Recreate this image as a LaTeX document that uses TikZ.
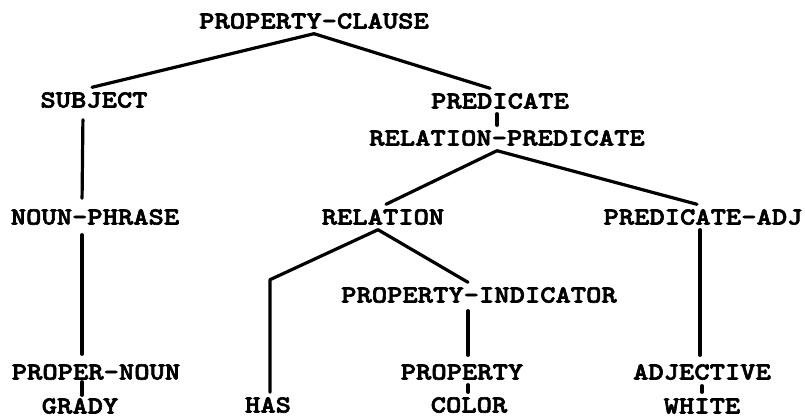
\documentclass[tikz,border=0pt]{standalone}
\usepackage{fontspec}
% heavy typewriter face, widened to a Courier-like proportion
\newfontfamily\twfont{lmmonolt10-bold.otf}[FakeStretch=1.19,FakeBold=2.6]
\begin{document}
\begin{tikzpicture}[x=1pt,y=-1pt,
  lbl/.style={font=\twfont\fontsize{24.5}{24.5}\selectfont,
    inner xsep=0pt, inner ysep=5pt, text height=15pt, text depth=0pt},
  branch/.style={line width=3.2pt, line cap=round, line join=round}]
\useasboundingbox (0,0) rectangle (805,418);

% parse tree labels
\node[lbl] (pc)    at (314,21)  {PROPERTY-CLAUSE};
\node[lbl] (subj)  at (94,100)  {SUBJECT};
\node[lbl] (pred)  at (500,101) {PREDICATE};
\node[lbl] (rp)    at (507,138) {RELATION-PREDICATE};
\node[lbl] (np)    at (95,217)  {NOUN-PHRASE};
\node[lbl] (rel)   at (383,217) {RELATION};
\node[lbl] (padj)  at (703,217) {PREDICATE-ADJ};
\node[lbl] (pi)    at (479,295) {PROPERTY-INDICATOR};
\node[lbl] (pn)    at (96,372)  {PROPER-NOUN};
\node[lbl] (prop)  at (462,372) {PROPERTY};
\node[lbl] (adj)   at (702,372) {ADJECTIVE};
\node[lbl] (grady) at (80,406)  {GRADY};
\node[lbl] (has)   at (268,405) {HAS};
\node[lbl] (color) at (469,405) {COLOR};
\node[lbl] (white) at (702,406) {WHITE};

% branches
\draw[branch] (pc.south) -- ([xshift=-2pt]subj.north);
\draw[branch] (pc.south) -- ([xshift=-10pt]pred.north);
\draw[branch] ([xshift=-3pt]pred.south) -- ([xshift=-10pt]rp.north);
\draw[branch] ([xshift=-10pt]rp.south) -- ([xshift=3pt]rel.north);
\draw[branch] ([xshift=-10pt]rp.south) -- ([xshift=-6pt]padj.north);

\draw[branch, shorten <=7pt, shorten >=6pt] ([xshift=-11pt]subj.south) -- ([xshift=-13pt]np.north);
\draw[branch, shorten <=5pt, shorten >=5pt] ([xshift=-13pt]np.south) -- ([xshift=-14pt]pn.north);
\draw[branch, shorten <=-3pt, shorten >=-2pt] ([xshift=-14pt]pn.south) -- ([xshift=2pt]grady.north);

\draw[branch] ([xshift=-5pt]rel.south) -- ++(-108,50) -- ([xshift=2pt]has.north);
\draw[branch] ([xshift=-5pt]rel.south) -- ([xshift=-11pt]pi.north);
\draw[branch, shorten <=3pt, shorten >=4pt] ([xshift=-11pt]pi.south) -- ([xshift=6pt]prop.north);
\draw[branch] ([xshift=6pt]prop.south) -- ([xshift=-1pt]color.north);

\draw[branch, shorten >=4pt] ([xshift=-3pt]padj.south) -- ([xshift=-2pt]adj.north);
\draw[branch, shorten <=1pt, shorten >=1pt] (adj.south) -- (white.north);
\end{tikzpicture}
\end{document}
